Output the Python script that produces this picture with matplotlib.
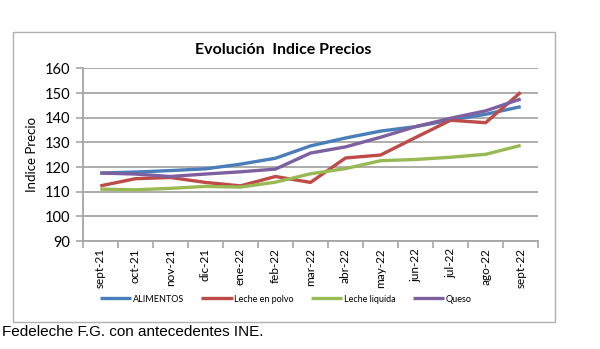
import matplotlib
matplotlib.use("Agg")
import matplotlib.pyplot as plt
import matplotlib.patches as patches
import numpy as np

# Monthly price index, Sept 2021 - Sept 2022
months = ["sept-21", "oct-21", "nov-21", "dic-21", "ene-22", "feb-22", "mar-22",
          "abr-22", "may-22", "jun-22", "jul-22", "ago-22", "sept-22"]
alimentos = [117.6, 118.0, 118.6, 119.3, 121.2, 123.6, 128.6, 131.8, 134.6, 136.4, 139.1, 141.4, 144.5]
leche_polvo = [112.4, 115.3, 115.8, 113.8, 112.4, 116.2, 113.8, 123.7, 124.9, 132.0, 139.0, 138.0, 150.3]
leche_liquida = [111.1, 110.8, 111.4, 112.2, 111.9, 113.9, 117.3, 119.4, 122.6, 123.1, 124.0, 125.2, 128.8]
queso = [117.6, 117.2, 116.2, 117.2, 118.1, 119.2, 125.7, 128.2, 132.1, 136.4, 139.8, 142.8, 147.6]

series = [
    ("ALIMENTOS", alimentos, "#4a7ebb"),
    ("Leche en polvo", leche_polvo, "#be4b48"),
    ("Leche liquida", leche_liquida, "#98b954"),
    ("Queso", queso, "#7d60a0"),
]

fig = plt.figure(figsize=(6, 3.49), dpi=100)
fig.patch.set_facecolor("white")

# outer chart frame
frame = patches.Rectangle((13 / 600, 1 - 322 / 349), 542 / 600, 290 / 349,
                          transform=fig.transFigure, fill=False,
                          edgecolor="#b0b0b0", lw=1.0)
fig.patches.append(frame)

ax = fig.add_axes([0.138, 0.309, 0.759, 0.495])
x = np.arange(len(months))
for name, vals, color in series:
    ax.plot(x, vals, color=color, lw=2.4, label=name, solid_capstyle="butt")

ax.set_xlim(-0.5, len(months) - 0.5)
ax.set_ylim(90, 160)
ax.set_yticks(range(90, 161, 10))
ax.yaxis.grid(True, color="#a6a6a6", lw=1.3)
ax.set_axisbelow(True)

for s in ("top", "right"):
    ax.spines[s].set_visible(False)
for s in ("left", "bottom"):
    ax.spines[s].set_color("#a6a6a6")
    ax.spines[s].set_linewidth(1.3)

ax.set_xticks(x)
ax.set_xticklabels(months, rotation=90, fontsize=8.5, family="Lato")
ax.set_xticks(np.arange(-0.5, len(months)), minor=True)
ax.tick_params(axis="x", which="major", length=0, pad=5)
ax.tick_params(axis="x", which="minor", length=5, color="#a6a6a6", width=1.2)
ax.tick_params(axis="y", length=5, color="#a6a6a6", width=1.2, pad=4)
for lbl in ax.get_yticklabels():
    lbl.set_fontsize(10.5)
    lbl.set_family("Lato")

ax.set_ylabel("Indice Precio", fontsize=9.5, family="Lato", labelpad=5)
fig.text(0.4725, 1 - 50 / 349, "Evolución  Indice Precios", ha="center", va="center",
         fontsize=11.5, fontweight="bold", family="Lato")

fig.legend(loc="center", bbox_to_anchor=(0.476, 1 - 299 / 349), ncol=4,
           frameon=False, prop={"family": "Lato", "size": 6.5},
           handlelength=3.5, handletextpad=0.15, columnspacing=1.9)

fig.text(0.003, 1 - 332 / 349, "Fedeleche F.G. con antecedentes INE.", ha="left",
         va="center", fontsize=11, family="Liberation Sans")

fig.savefig("out.png", dpi=100, facecolor=fig.get_facecolor())
